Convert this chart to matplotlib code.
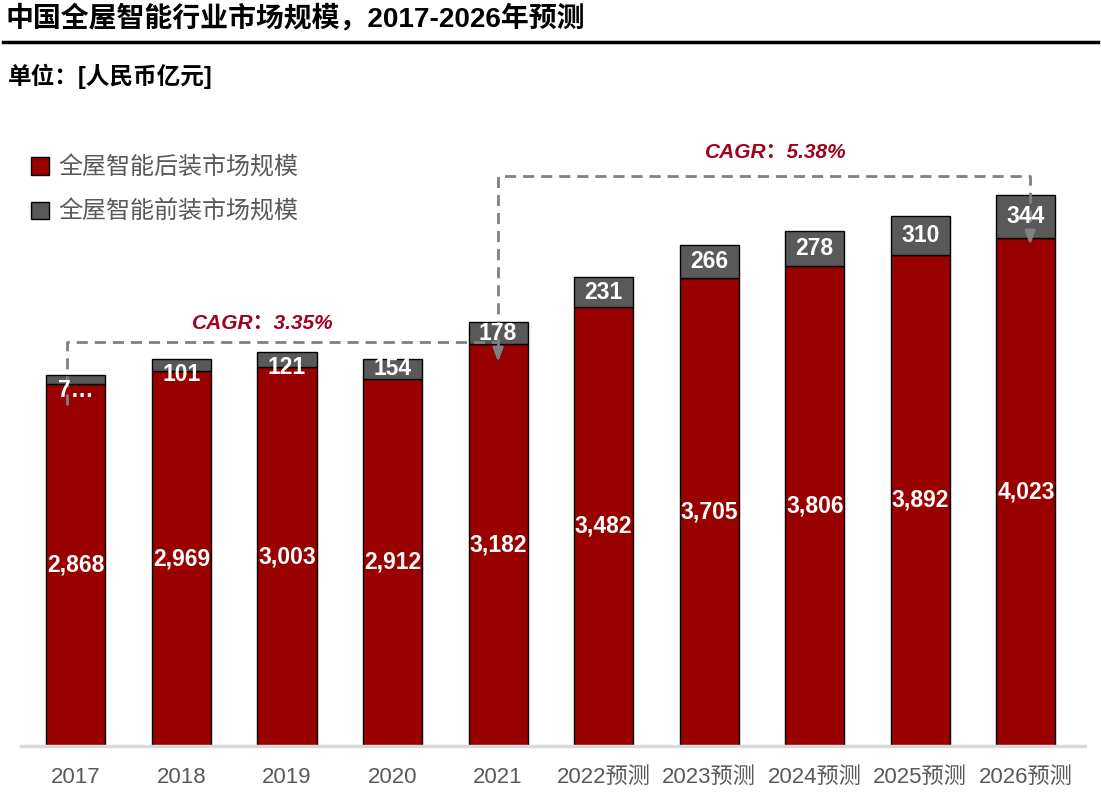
import matplotlib.pyplot as plt
from matplotlib.lines import Line2D

# ---------------------------------------------------------------------------
# Data (亿元)
# ---------------------------------------------------------------------------
years = ['2017', '2018', '2019', '2020', '2021',
         '2022预测', '2023预测', '2024预测', '2025预测', '2026预测']
after_market = [2868, 2969, 3003, 2912, 3182, 3482, 3705, 3806, 3892, 4023]
pre_market = [72, 101, 121, 154, 178, 231, 266, 278, 310, 344]
pre_labels = ['7…', '101', '121', '154', '178', '231', '266', '278', '310', '344']

cagr_texts = ['CAGR：3.35%', 'CAGR：5.38%']

# ---------------------------------------------------------------------------
# Style
# ---------------------------------------------------------------------------
plt.rcParams['font.family'] = ['Liberation Sans', 'Noto Sans CJK SC', 'DejaVu Sans']
RED = '#990000'
GREY = '#595959'
DASH = '#808080'
CAGR_COLOR = '#A0001E'

W, H = 1101, 794
fig = plt.figure(figsize=(W / 100, H / 100), dpi=100)
ax = fig.add_axes([21 / W, (H - 746) / H, (1085 - 21) / W, (746 - 110) / H])

x = list(range(len(years)))
width = 0.56
totals = [a + p for a, p in zip(after_market, pre_market)]

ax.bar(x, after_market, width, color=RED, edgecolor='black', linewidth=1,
       label='全屋智能后装市场规模', zorder=2)
ax.bar(x, pre_market, width, bottom=after_market, color=GREY, edgecolor='black',
       linewidth=1, label='全屋智能前装市场规模', zorder=2)

# Waarden in de segmenten
for i in x:
    ax.text(i, after_market[i] / 2, f'{after_market[i]:,}', ha='center', va='center',
            color='white', fontsize=16.5, fontweight='bold', zorder=4)
    h = pre_market[i]
    y = totals[i] - (h / 2 if h >= 150 else 125)
    ax.text(i, y, pre_labels[i], ha='center', va='center', color='white',
            fontsize=16.5, fontweight='bold', zorder=4)

ax.set_xlim(-0.52, 9.56)
ax.set_ylim(0, 5040)
ax.set_xticks(x)
ax.set_xticklabels(years, fontsize=16, color=GREY)
ax.tick_params(axis='x', length=0, pad=15)
ax.set_yticks([])
for side in ['left', 'right', 'top']:
    ax.spines[side].set_visible(False)
ax.spines['bottom'].set_color('#D9D9D9')
ax.spines['bottom'].set_linewidth(2.5)

# ---------------------------------------------------------------------------
# CAGR verbindingslijnen
# ---------------------------------------------------------------------------
dash_kw = dict(color=DASH, linewidth=2, linestyle=(0, (4, 2.5)), zorder=3)
ax.plot([-0.08, -0.08, 4.0], [2702, 3201, 3201], **dash_kw)
ax.plot([4.0, 4.0, 9.04, 9.04], [3140, 4517, 4517, 4060], **dash_kw)
for xa, tip in [(4.0, 3043), (9.04, 3970)]:
    ax.annotate('', xy=(xa, tip), xytext=(xa, tip + 110),
                arrowprops=dict(arrowstyle='-|>,head_width=0.3,head_length=0.8',
                                color=DASH, lw=2, shrinkA=0, shrinkB=0), zorder=3)

ax.text(1.77, 3352, cagr_texts[0], ha='center', va='center', color=CAGR_COLOR,
        fontsize=15, fontweight='bold', fontstyle='italic')
ax.text(6.63, 4707, cagr_texts[1], ha='center', va='center', color=CAGR_COLOR,
        fontsize=15, fontweight='bold', fontstyle='italic')

# Legende
leg = ax.legend(loc='upper left', bbox_to_anchor=(0.0, 0.943), frameon=False,
                fontsize=17.3, labelcolor=GREY, handlelength=0.75, handleheight=0.75,
                handletextpad=0.4, labelspacing=0.9, borderaxespad=0)

# ---------------------------------------------------------------------------
# Titel en eenheid
# ---------------------------------------------------------------------------
fig.text(5 / W, 1 - 18 / H, '中国全屋智能行业市场规模，2017-2026年预测', ha='left', va='center',
         fontsize=20.1, fontweight='bold', color='black')
fig.add_artist(Line2D([3 / W, 1098 / W], [1 - 42 / H, 1 - 42 / H], color='black', linewidth=2.5))
fig.text(8 / W, 1 - 76 / H, '单位：[人民币亿元]', ha='left', va='center',
         fontsize=17, fontweight='bold', color='black')

plt.savefig('out.png', dpi=100)
